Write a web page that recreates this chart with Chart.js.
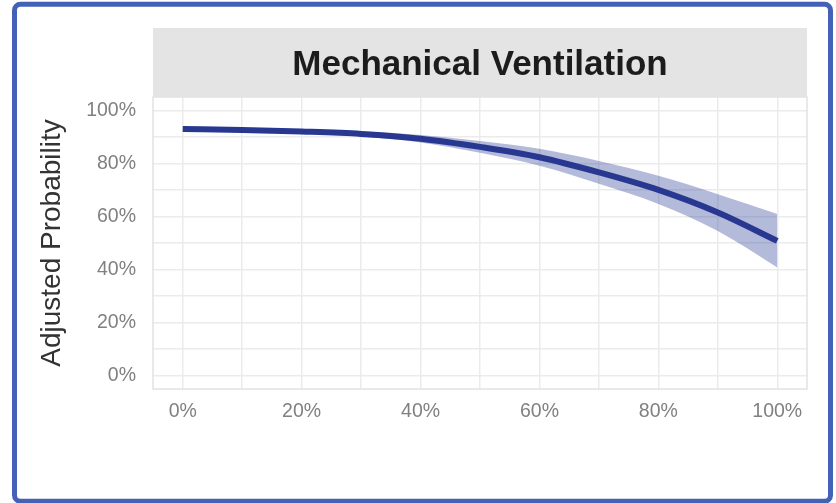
<!DOCTYPE html>
<html>
<head>
<meta charset="utf-8">
<title>Mechanical Ventilation</title>
<script src="https://cdn.jsdelivr.net/npm/chart.js@4/dist/chart.umd.min.js"></script>
<style>
  html, body { margin: 0; padding: 0; background: #ffffff; }
  canvas { display: block; }
</style>
</head>
<body>
<canvas id="chart" width="836" height="503"></canvas>
<script>
// Predictor level (%), along the x axis
const xLevels = [0, 10, 20, 30, 40, 50, 60, 70, 80, 90, 100];
// Adjusted probability (%) with its confidence band
const probability = [92.9, 92.6, 92.0, 91.1, 89.3, 86.2, 82.3, 76.6, 70.0, 61.5, 50.8];
const upperBound  = [93.6, 93.3, 92.8, 92.1, 90.7, 88.4, 85.5, 80.9, 75.3, 68.4, 60.9];
const lowerBound  = [92.2, 91.9, 91.2, 90.1, 87.9, 84.0, 79.1, 72.3, 64.7, 54.5, 40.8];

// Gridline positions (every 10%); labels only on every 20%
const xTickValues = [0, 10, 20, 30, 40, 50, 60, 70, 80, 90, 100];
const yTickValues = [0, 10, 20, 30, 40, 50, 60, 70, 80, 90, 100];
const labelStep = 20;

const panelTitle = 'Mechanical Ventilation';
const yAxisTitle = 'Adjusted Probability';

const toPoints = ys => xLevels.map((x, i) => ({ x: x, y: ys[i] }));
const pctLabel = v => (v % labelStep === 0 ? v + '%' : '');

const FONT = '"Liberation Sans", Arial, sans-serif';
const GRID = '#ebebeb';
const LINE = '#283891';
const BAND = 'rgba(40, 56, 145, 0.35)';

// Facet strip, panel outline and frame around the figure
const decorations = {
  id: 'decorations',
  beforeDraw(chart) {
    const { ctx, chartArea: a } = chart;
    ctx.save();
    ctx.fillStyle = '#e4e4e4';
    ctx.fillRect(a.left, 28, a.right - a.left, a.top - 28);
    ctx.restore();
  },
  afterDraw(chart) {
    const { ctx, chartArea: a } = chart;
    ctx.save();
    ctx.strokeStyle = '#e2e2e2';
    ctx.lineWidth = 1.5;
    ctx.strokeRect(a.left, a.top, a.right - a.left, a.bottom - a.top);

    ctx.fillStyle = '#1c1c1c';
    ctx.font = 'bold 35px ' + FONT;
    ctx.textAlign = 'center';
    ctx.textBaseline = 'alphabetic';
    ctx.fillText(panelTitle, (a.left + a.right) / 2, 75);

    ctx.strokeStyle = '#4461b8';
    ctx.lineWidth = 5;
    ctx.beginPath();
    ctx.roundRect(14.5, 4.3, 816, 497, 6);
    ctx.stroke();
    ctx.restore();
  }
};

new Chart(document.getElementById('chart'), {
  type: 'line',
  data: {
    datasets: [
      {
        label: 'Adjusted probability',
        data: toPoints(probability),
        borderColor: LINE,
        borderWidth: 6,
        borderCapStyle: 'butt',
        pointRadius: 0,
        cubicInterpolationMode: 'monotone',
        fill: false
      },
      {
        label: 'Upper bound',
        data: toPoints(upperBound),
        borderWidth: 0,
        borderColor: 'rgba(0,0,0,0)',
        pointRadius: 0,
        cubicInterpolationMode: 'monotone',
        fill: false
      },
      {
        label: 'Lower bound',
        data: toPoints(lowerBound),
        borderWidth: 0,
        borderColor: 'rgba(0,0,0,0)',
        backgroundColor: BAND,
        pointRadius: 0,
        cubicInterpolationMode: 'monotone',
        fill: '-1'
      }
    ]
  },
  options: {
    responsive: false,
    devicePixelRatio: 1,
    animation: false,
    events: [],
    layout: { padding: { top: 97, right: 29, bottom: 0, left: 0 } },
    plugins: {
      legend: { display: false },
      tooltip: { enabled: false },
      filler: { propagate: false }
    },
    scales: {
      x: {
        type: 'linear',
        min: -5,
        max: 105,
        afterFit(scale) { scale.height = 114; },
        afterBuildTicks(scale) { scale.ticks = xTickValues.map(v => ({ value: v })); },
        grid: { color: GRID, lineWidth: 1.5, drawTicks: false },
        border: { display: false },
        ticks: {
          callback: pctLabel,
          autoSkip: false,
          maxRotation: 0,
          padding: 11,
          color: '#808080',
          font: { family: FONT, size: 19.5 }
        }
      },
      y: {
        type: 'linear',
        min: -5,
        max: 105,
        afterFit(scale) { scale.width = 153; },
        afterBuildTicks(scale) { scale.ticks = yTickValues.map(v => ({ value: v })); },
        grid: { color: GRID, lineWidth: 1.5, drawTicks: false },
        border: { display: false },
        ticks: {
          callback: pctLabel,
          autoSkip: false,
          padding: 17,
          color: '#808080',
          font: { family: FONT, size: 19.5 }
        },
        title: {
          display: true,
          text: yAxisTitle,
          color: '#333333',
          padding: { top: 35, bottom: 0 },
          font: { family: FONT, size: 28 }
        }
      }
    }
  },
  plugins: [decorations]
});
</script>
</body>
</html>
